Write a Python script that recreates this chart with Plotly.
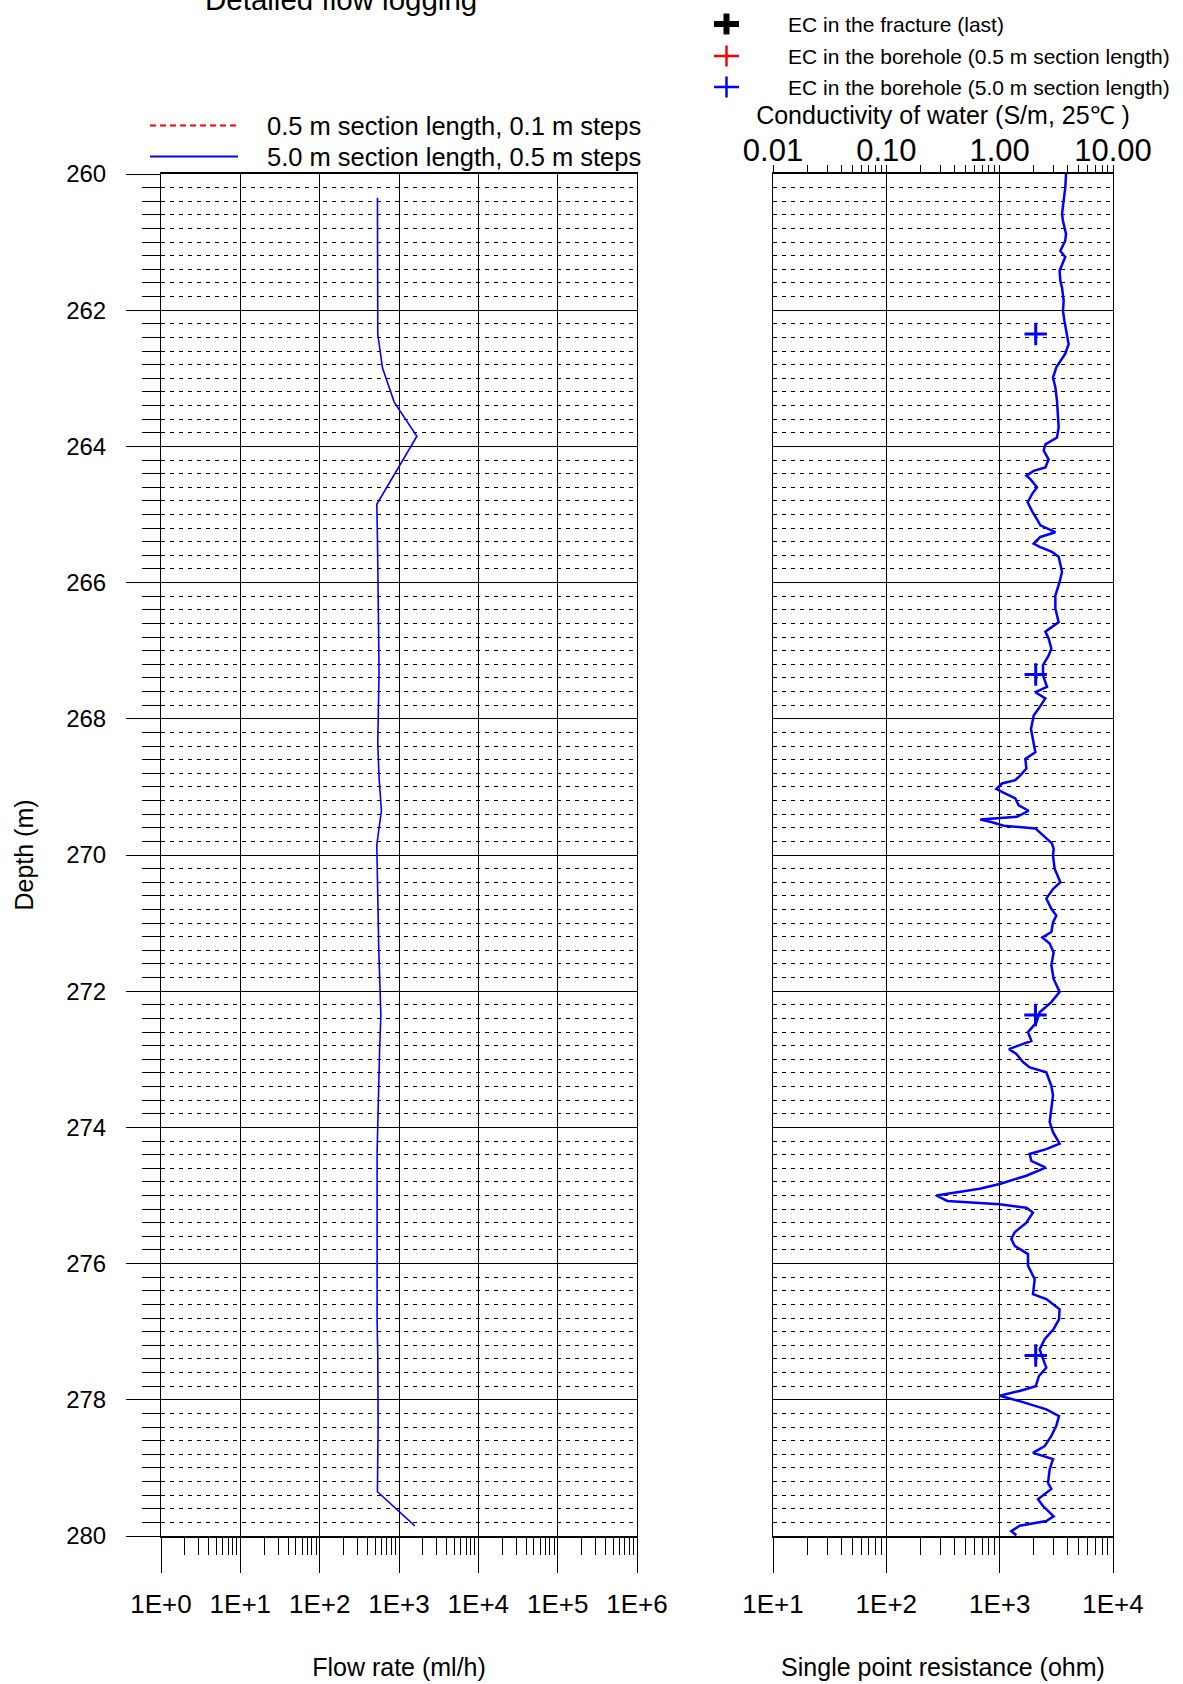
import plotly.graph_objects as go

W, H = 1183, 1684
FONT = "Liberation Sans, Arial, sans-serif"

# ---------------- data ----------------
FLOW_DEPTH = [260.35, 260.85, 261.35, 261.85, 262.35, 262.85, 263.35, 263.85, 264.35, 264.85,
              265.35, 265.85, 266.35, 266.85, 267.35, 267.85, 268.35, 268.85, 269.35, 269.85,
              270.35, 270.85, 271.35, 271.85, 272.35, 272.85, 273.35, 273.85, 274.35, 274.85,
              275.35, 275.85, 276.35, 276.85, 277.35, 277.85, 278.35, 278.85, 279.35, 279.85]
FLOW_5M = [535, 535, 535, 535, 540, 620, 870, 1680, 950, 525,
           535, 545, 550, 555, 560, 550, 540, 560, 600, 525,
           540, 545, 555, 570, 590, 570, 555, 540, 530, 530,
           530, 525, 520, 530, 540, 545, 545, 540, 535, 1580]

SPR_DEPTH = [260.00, 260.20, 260.39, 260.59, 260.69, 260.88, 260.98, 261.13, 261.22, 261.32,
             261.42, 261.57, 261.67, 261.86, 262.01, 262.15, 262.35, 262.50, 262.64, 262.74,
             262.84, 262.99, 263.13, 263.33, 263.53, 263.72, 263.87, 263.97, 264.06, 264.19,
             264.31, 264.36, 264.43, 264.48, 264.60, 264.70, 264.82, 264.95, 265.07, 265.16,
             265.26, 265.33, 265.43, 265.48, 265.55, 265.62, 265.84, 265.99, 266.19, 266.38,
             266.58, 266.72, 266.82, 266.97, 267.07, 267.21, 267.36, 267.53, 267.61, 267.70,
             267.85, 267.95, 268.15, 268.34, 268.49, 268.59, 268.73, 268.83, 268.90, 268.95,
             269.03, 269.08, 269.17, 269.27, 269.35, 269.44, 269.48, 269.52, 269.57, 269.61,
             269.71, 269.83, 269.91, 270.01, 270.20, 270.40, 270.50, 270.64, 270.79, 270.89,
             270.99, 271.13, 271.21, 271.30, 271.43, 271.62, 271.82, 272.01, 272.16, 272.31,
             272.46, 272.60, 272.73, 272.85, 272.92, 273.04, 273.12, 273.19, 273.39, 273.53,
             273.73, 273.92, 274.07, 274.24, 274.32, 274.39, 274.49, 274.59, 274.71, 274.83,
             274.90, 275.00, 275.08, 275.13, 275.18, 275.25, 275.40, 275.54, 275.64, 275.74,
             275.86, 276.03, 276.23, 276.45, 276.52, 276.67, 276.82, 276.96, 277.11, 277.26,
             277.40, 277.53, 277.65, 277.80, 277.87, 277.94, 278.02, 278.14, 278.24, 278.38,
             278.53, 278.68, 278.78, 278.87, 279.02, 279.22, 279.31, 279.46, 279.56, 279.71,
             279.78, 279.85, 279.93, 279.99]
SPR_OHM = [3850, 3790, 3670, 3550, 3620, 3850, 3790, 3430, 3790, 3550,
           3380, 3430, 3550, 3670, 3620, 3720, 3930, 4060, 3790, 3430,
           3160, 2955, 3100, 3205, 3250, 3315, 3205, 2530, 2445, 2705,
           2530, 1995, 1720, 1865, 2135, 1930, 1767, 1930, 2135, 2285,
           3100, 2285, 1995, 2285, 2895, 3315, 3548, 3380, 3100, 3100,
           3315, 2530, 2705, 2857, 2705, 2412, 2412, 2616, 2065, 2530,
           2208, 1995, 1890, 1995, 2065, 1684, 1720, 1521, 1374, 1048,
           935, 1069, 1374, 1471, 1803, 1422, 675, 856, 1085, 2065,
           2412, 2895, 2994, 2955, 3055, 3430, 2955, 2580, 2857, 3160,
           2955, 2857, 2378, 2762, 2994, 2857, 2994, 3380, 2857, 2254,
           2107, 1778, 1903, 1208, 1403, 1607, 1840, 2580, 2857, 2955,
           2857, 2762, 2955, 3380, 2580, 1840, 1903, 2547, 1720, 1000,
           666, 276, 345, 1000, 1720, 1968, 1720, 1357, 1267, 1357,
           1778, 1778, 2037, 1968, 2580, 3380, 3340, 2994, 2495, 2254,
           2412, 2580, 2224, 2080, 1500, 1000, 1500, 2580, 3340, 3160,
           2857, 2495, 1968, 2955, 2762, 2670, 2857, 2178, 2412, 2994,
           2580, 1500, 1267, 1403]

EC_DEPTH = [262.35, 267.35, 272.35, 277.35]
EC_5M = [2.08, 2.08, 2.07, 2.08]

FLOW_TICK_VALS = [1, 10, 100, 1000, 10000, 100000, 1000000]
FLOW_TICK_TEXT = ["1E+0", "1E+1", "1E+2", "1E+3", "1E+4", "1E+5", "1E+6"]
SPR_TICK_VALS = [10, 100, 1000, 10000]
SPR_TICK_TEXT = ["1E+1", "1E+2", "1E+3", "1E+4"]
EC_TICK_VALS = [0.01, 0.1, 1, 10]
EC_TICK_TEXT = ["0.01", "0.10", "1.00", "10.00"]

LEFT_LEGEND = ["0.5 m section length, 0.1 m steps", "5.0 m section length, 0.5 m steps"]
RIGHT_LEGEND = ["EC in the fracture (last)",
                "EC in the borehole (0.5 m section length)",
                "EC in the borehole (5.0 m section length)"]


def minor_log(lo, hi):
    return [m * 10 ** e for e in range(lo, hi) for m in range(2, 10)]


def px(x):
    return x / W


def py(y):
    return 1 - y / H


# ---------------- figure ----------------
fig = go.Figure()
fig.add_trace(go.Scatter(x=FLOW_5M, y=FLOW_DEPTH, mode="lines", xaxis="x", yaxis="y",
                         line=dict(color="#0000FF", width=1.6), showlegend=False))
fig.add_trace(go.Scatter(x=SPR_OHM, y=SPR_DEPTH, mode="lines", xaxis="x2", yaxis="y2",
                         line=dict(color="#0000FF", width=2.5), showlegend=False))
fig.add_trace(go.Scatter(x=EC_5M, y=EC_DEPTH, mode="markers", xaxis="x3", yaxis="y2",
                         marker=dict(symbol="cross-thin", size=16,
                                     line=dict(color="#0000FF", width=3)),
                         showlegend=False))

dom_y = [py(1536), py(174)]
grid_minor = dict(dtick=0.2, tick0=260, showgrid=True, gridcolor="black",
                  griddash="4px,5px", gridwidth=1)

fig.update_layout(
    template="none",
    width=W, height=H, margin=dict(l=0, r=0, t=0, b=0, pad=0),
    paper_bgcolor="white", plot_bgcolor="white",
    font=dict(family=FONT, color="black", size=22),
    showlegend=False,
    xaxis=dict(type="log", range=[0, 6], domain=[px(161), px(637)], anchor="y",
               automargin=False,
               tickmode="array", tickvals=FLOW_TICK_VALS, ticktext=FLOW_TICK_TEXT,
               ticks="outside", ticklen=35, tickcolor="black", tickwidth=1,
               tickfont=dict(size=26), ticklabelstandoff=9,
               showgrid=True, gridcolor="black", gridwidth=1,
               showline=True, linecolor="black", linewidth=2, mirror=True,
               minor=dict(tickmode="array", tickvals=minor_log(0, 6), ticks="outside",
                          ticklen=17, tickcolor="black", tickwidth=1, showgrid=False),
               title=dict(text="Flow rate (ml/h)", font=dict(size=25), standoff=40),
               zeroline=False),
    yaxis=dict(range=[280, 260], domain=dom_y, anchor="x", automargin=False,
               tickmode="linear", tick0=260, dtick=2,
               ticks="outside", ticklen=34, tickcolor="black", tickwidth=1,
               tickfont=dict(size=24), ticklabelstandoff=15,
               showgrid=True, gridcolor="black", gridwidth=1,
               showline=True, linecolor="black", linewidth=1, mirror=True,
               minor=dict(ticks="outside", ticklen=18, tickcolor="black", tickwidth=1,
                          **grid_minor),
               title=dict(text="Depth (m)", font=dict(size=25), standoff=25),
               zeroline=False),
    xaxis2=dict(type="log", range=[1, 4], domain=[px(773), px(1113)], anchor="y2",
                automargin=False,
                tickmode="array", tickvals=SPR_TICK_VALS, ticktext=SPR_TICK_TEXT,
                ticks="outside", ticklen=35, tickcolor="black", tickwidth=1,
                tickfont=dict(size=26), ticklabelstandoff=9,
                showgrid=True, gridcolor="black", gridwidth=1,
                showline=True, linecolor="black", linewidth=2, mirror=True,
                minor=dict(tickmode="array", tickvals=minor_log(1, 4), ticks="outside",
                           ticklen=17, tickcolor="black", tickwidth=1, showgrid=False),
                title=dict(text="Single point resistance (ohm)", font=dict(size=25), standoff=40),
                zeroline=False),
    xaxis3=dict(type="log", range=[-2, 1], overlaying="x2", side="top", anchor="y2",
                automargin=False,
                tickmode="array", tickvals=EC_TICK_VALS, ticktext=EC_TICK_TEXT,
                ticks="outside", ticklen=8, tickcolor="black", tickwidth=1,
                tickfont=dict(size=31), ticklabelstandoff=-8,
                showgrid=False, showline=False,
                minor=dict(tickmode="array", tickvals=minor_log(-2, 1), ticks="outside",
                           ticklen=8, tickcolor="black", tickwidth=1, showgrid=False),
                title=dict(text="Conductivity of water (S/m, 25\u2103 )", font=dict(size=25),
                           standoff=0),
                zeroline=False),
    yaxis2=dict(range=[280, 260], domain=dom_y, anchor="x2", matches="y", automargin=False,
                tickmode="linear", tick0=260, dtick=2,
                ticks="", showticklabels=False,
                showgrid=True, gridcolor="black", gridwidth=1,
                showline=True, linecolor="black", linewidth=1, mirror=True,
                minor=dict(ticks="", **grid_minor),
                zeroline=False),
)

shapes = []
annotations = []

# title (mostly cut off at top of page, as in the original)
annotations.append(dict(text="Detailed flow logging", xref="paper", yref="paper",
                        x=px(341), y=py(18), xanchor="center", yanchor="bottom",
                        showarrow=False, font=dict(size=29.5)))

# left legend
shapes.append(dict(type="line", xref="paper", yref="paper", x0=px(150), x1=px(238),
                   y0=py(125.5), y1=py(125.5), line=dict(color="#FF0000", width=2, dash="6px,4px")))
shapes.append(dict(type="line", xref="paper", yref="paper", x0=px(150), x1=px(238),
                   y0=py(156.5), y1=py(156.5), line=dict(color="#0000FF", width=2)))
for txt, yy in zip(LEFT_LEGEND, [125.5, 156.5]):
    annotations.append(dict(text=txt, xref="paper", yref="paper", x=px(265), y=py(yy),
                            xanchor="left", yanchor="middle", showarrow=False,
                            font=dict(size=25.5)))

# right legend (plus symbols)
for (color, lw, yy) in [("#000000", 6, 24), ("#FF0000", 2.5, 56), ("#0000FF", 2.5, 87)]:
    shapes.append(dict(type="line", xref="paper", yref="paper", x0=px(714), x1=px(739),
                       y0=py(yy), y1=py(yy), line=dict(color=color, width=lw)))
    shapes.append(dict(type="line", xref="paper", yref="paper", x0=px(726.5), x1=px(726.5),
                       y0=py(yy - 10.5), y1=py(yy + 10.5), line=dict(color=color, width=lw)))
for txt, yy in zip(RIGHT_LEGEND, [24, 56, 87]):
    annotations.append(dict(text=txt, xref="paper", yref="paper", x=px(786), y=py(yy),
                            xanchor="left", yanchor="middle", showarrow=False,
                            font=dict(size=21)))

fig.update_layout(shapes=shapes, annotations=annotations)
fig.write_html("out.html")
